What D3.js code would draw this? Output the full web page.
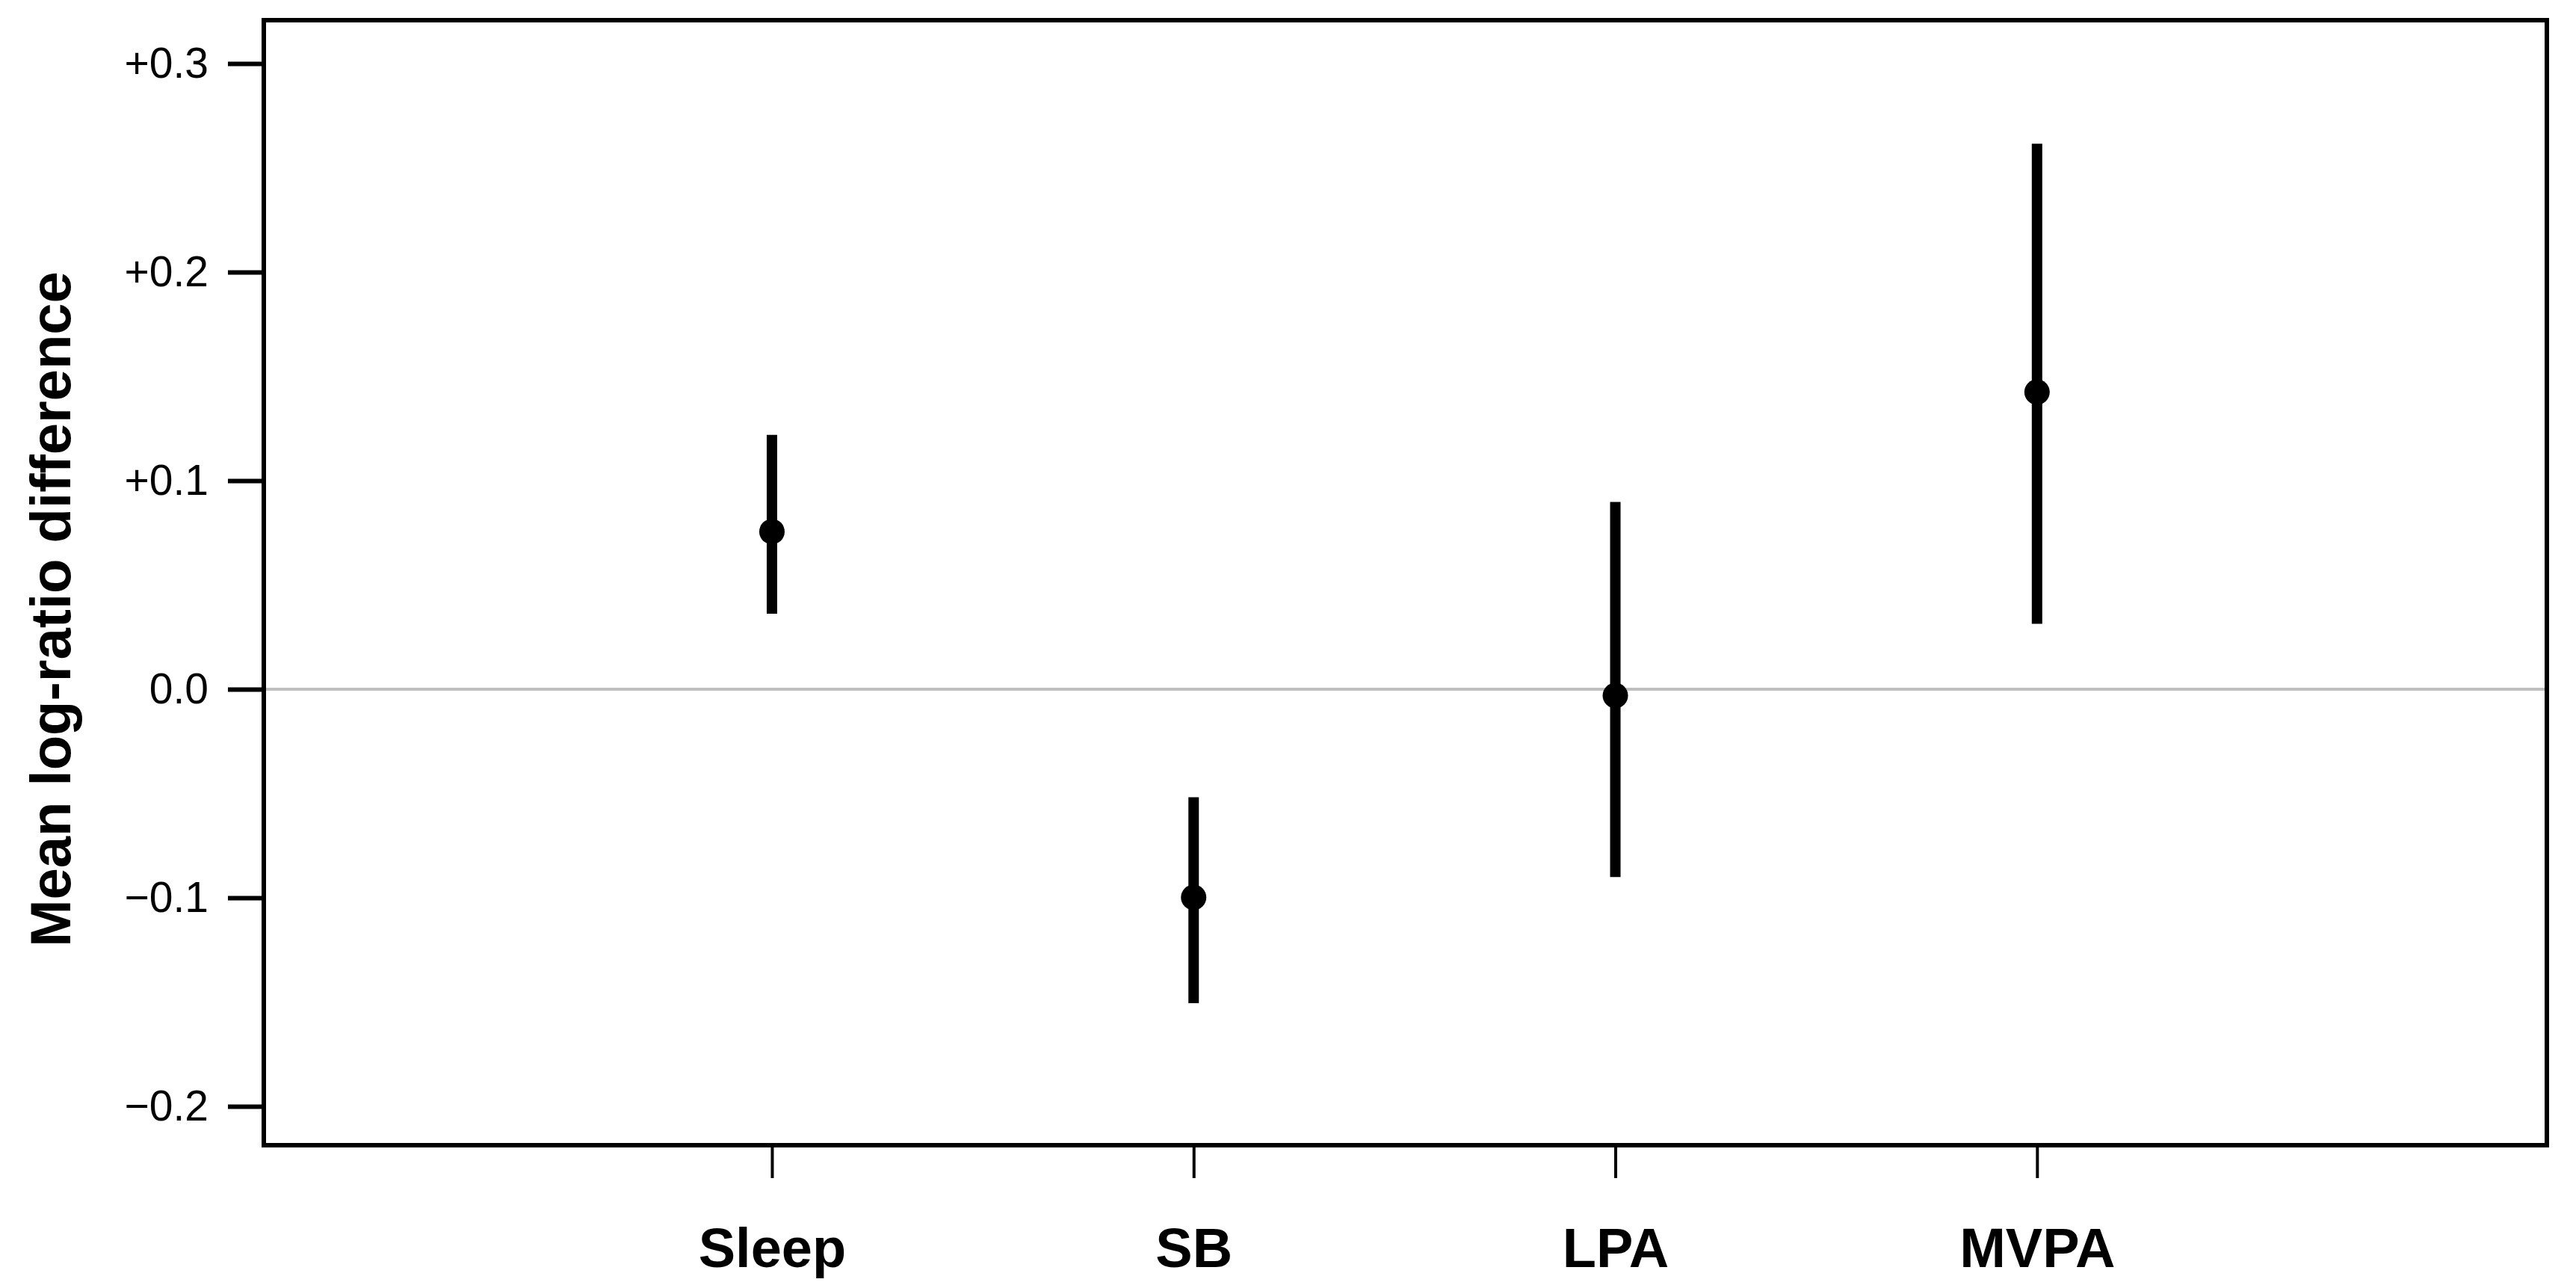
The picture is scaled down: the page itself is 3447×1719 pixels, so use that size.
<!DOCTYPE html>
<html><head><meta charset="utf-8">
<script src="https://cdn.jsdelivr.net/npm/d3@7"></script>
<style>html,body{margin:0;padding:0;background:#fff;}</style>
</head><body>
<script>
const categories = ["Sleep", "SB", "LPA", "MVPA"];
const meanValues = [0.0756, -0.0998, -0.0030, 0.1425];
const lowerCI = [0.0362, -0.1505, -0.0900, 0.0314];
const upperCI = [0.1220, -0.0518, 0.0898, 0.2616];
const yTickValues = [-0.2, -0.1, 0.0, 0.1, 0.2, 0.3];
const yTickLabels = ["\u22120.2", "\u22120.1", "0.0", "+0.1", "+0.2", "+0.3"];
const yAxisTitle = "Mean log-ratio difference";

const W = 3447, H = 1719;
const L = 353, R = 3408, T = 27, B = 1532;
const svg = d3.select("body").append("svg").attr("width", W).attr("height", H)
  .style("font-family", "'Liberation Sans', Arial, sans-serif");

const x = d3.scaleLinear().domain([-0.205, 5.209]).range([L, R]);
const y = d3.scaleLinear().domain([-0.2186, 0.3208]).range([B, T]);

// zero reference line
svg.append("line").attr("x1", L).attr("x2", R).attr("y1", y(0)).attr("y2", y(0))
  .attr("stroke", "#bfbfbf").attr("stroke-width", 4);

// y axis
const yAxis = d3.axisLeft(y).tickValues(yTickValues)
  .tickFormat((d, i) => yTickLabels[i]).tickSize(48).tickPadding(26);
const gy = svg.append("g").attr("transform", `translate(${L},0)`).call(yAxis);
gy.select(".domain").remove();
gy.selectAll(".tick line").attr("stroke", "#000").attr("stroke-width", 6);
gy.selectAll(".tick text").attr("font-size", 57).attr("fill", "#000")
  .attr("font-family", "'Liberation Sans', Arial, sans-serif");

// x axis
const xAxis = d3.axisBottom(x).tickValues(d3.range(1, categories.length + 1))
  .tickFormat(d => categories[d - 1]).tickSize(44).tickPadding(66);
const gx = svg.append("g").attr("transform", `translate(0,${B})`).call(xAxis);
gx.select(".domain").remove();
gx.selectAll(".tick line").attr("stroke", "#000").attr("stroke-width", 4);
gx.selectAll(".tick text").attr("font-size", 74).attr("font-weight", "bold").attr("fill", "#000")
  .attr("font-family", "'Liberation Sans', Arial, sans-serif");

// frame
svg.append("rect").attr("x", L).attr("y", T).attr("width", R - L).attr("height", B - T)
  .attr("fill", "none").attr("stroke", "#000").attr("stroke-width", 6);

// error bars
const data = categories.map((c, i) => ({c, i: i + 1, m: meanValues[i], lo: lowerCI[i], hi: upperCI[i]}));
svg.append("g").selectAll("line").data(data).join("line")
  .attr("x1", d => x(d.i)).attr("x2", d => x(d.i))
  .attr("y1", d => y(d.lo)).attr("y2", d => y(d.hi))
  .attr("stroke", "#000").attr("stroke-width", 14);
svg.append("g").selectAll("circle").data(data).join("circle")
  .attr("cx", d => x(d.i)).attr("cy", d => y(d.m)).attr("r", 17).attr("fill", "#000");

// y title
svg.append("text").attr("transform", `translate(94,815) rotate(-90)`)
  .attr("text-anchor", "middle").attr("font-size", 76).attr("font-weight", "bold")
  .text(yAxisTitle);
</script>
</body></html>
